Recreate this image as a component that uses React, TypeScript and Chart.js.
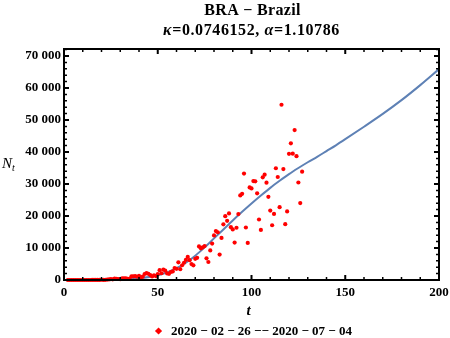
import React, { useEffect, useRef } from "react";
import { Chart, registerables } from "chart.js";

Chart.register(...registerables);

// ---- data ----
const FIRST_DAY = 2;
const dailyCases = [
  1, 0, 0, 1, 0, 0, 0, 2,
  5, 5, 6, 5, 5, 9, 18, 25, 21, 23,
  79, 34, 57, 137, 193, 283, 224, 418, 345, 310,
  232, 482, 502, 487, 352, 323, 1138, 1119, 1208, 1012,
  1304, 770, 1031, 1873, 2136, 1922, 1546, 1089, 1465, 1238,
  1832, 3058, 2105, 3257, 2917, 2055, 1927, 2498, 2678, 3735,
  3503, 5514, 3379, 4613, 5385, 6276, 7218, 6209, 4970, 4588,
  6633, 6935, 10503, 9888, 10222, 10611, 6760, 5632, 9258, 11385,
  13944, 15305, 14919, 7938, 13140, 17408, 19951, 18508, 20803, 16508,
  15813, 11687, 16324, 20599, 26417, 26928, 33274, 16409, 11598, 28936,
  28633, 30925, 30830, 27075, 18912, 15654, 32091, 32913, 30412, 25982,
  21704, 17110, 20647, 34918, 32188, 22765, 54771, 34666, 17459, 21432,
  39436, 42725, 39483, 46860, 38693, 30476, 24052, 33846,
];
const dayIndex = dailyCases.map((_, i) => FIRST_DAY + i);

const curveT = [0, 10, 20, 30, 40, 50, 55, 60, 65, 70, 75, 80, 85, 90, 95, 100, 105, 110, 115, 120, 125, 130, 135, 140, 145, 150, 160, 170, 180, 190, 200];
const curveN = [0, 5, 40, 180, 550, 1500, 2400, 3700, 5400, 7600, 10200, 13000, 15800, 18600, 21300, 23900, 26400, 28800, 31000, 33100, 35000, 36800, 38500, 40300, 42100, 44000, 47900, 51900, 56200, 60900, 65900];

const xTicks = [0, 50, 100, 150, 200];
const yTicks = [0, 10000, 20000, 30000, 40000, 50000, 60000, 70000];
const X_MIN = 0;
const X_MAX = 200;
const Y_MIN = 0;
const Y_MAX = 72190;
const X_MINOR = 10;
const Y_MINOR = 2000;

const titleLine1 = "BRA \u2212 Brazil";
const kappaValue = "0.0746152";
const alphaValue = "1.10786";
const legendLabel = "2020 \u2212 02 \u2212 26 \u2212\u2212 2020 \u2212 07 \u2212 04";
const xTitle = "t";
const yTitle = "N";
const yTitleSub = "t";

const SERIF = '"Liberation Serif", "Times New Roman", serif';
const RED = "#ff0000";
const BLUE = "#5e81b5";

function fmt(v: number): string {
  if (v >= 10000) {
    return `${Math.floor(v / 1000)} ${String(v % 1000).padStart(3, "0")}`;
  }
  return String(v);
}

const decorPlugin = {
  id: "decor",
  afterDraw(chart: any) {
    const { ctx, chartArea: a, scales } = chart;
    const xs = scales.x;
    const ys = scales.y;
    ctx.save();
    ctx.strokeStyle = "#000";
    ctx.lineCap = "butt";
    for (let v = X_MIN; v <= X_MAX; v += X_MINOR) {
      const px = xs.getPixelForValue(v);
      const major = v % 50 === 0;
      const len = major ? 5 : 3;
      ctx.lineWidth = major ? 2 : 1.5;
      ctx.beginPath();
      ctx.moveTo(px, a.bottom);
      ctx.lineTo(px, a.bottom - len);
      ctx.moveTo(px, a.top);
      ctx.lineTo(px, a.top + len);
      ctx.stroke();
    }
    for (let v = Y_MIN; v <= Y_MAX; v += Y_MINOR) {
      const py = ys.getPixelForValue(v);
      const major = v % 10000 === 0;
      const len = major ? 5 : 3;
      ctx.lineWidth = major ? 2 : 1.5;
      ctx.beginPath();
      ctx.moveTo(a.left, py);
      ctx.lineTo(a.left + len, py);
      ctx.moveTo(a.right, py);
      ctx.lineTo(a.right - len, py);
      ctx.stroke();
    }
    ctx.lineWidth = 2;
    ctx.strokeRect(a.left, a.top, a.right - a.left, a.bottom - a.top);

    const cx = (a.left + a.right) / 2;
    ctx.fillStyle = "#000";
    ctx.textBaseline = "alphabetic";
    ctx.font = `bold 16px ${SERIF}`;
    ctx.textAlign = "center";
    (ctx as any).letterSpacing = "0.3px";
    ctx.fillText(titleLine1, cx + 1, 15);
    (ctx as any).letterSpacing = "0.6px";
    const segs: [string, string][] = [
      ["\u03ba", `italic bold 16px ${SERIF}`],
      ["=" + kappaValue + ", ", `bold 16px ${SERIF}`],
      ["\u03b1", `italic bold 16px ${SERIF}`],
      ["=" + alphaValue, `bold 16px ${SERIF}`],
    ];
    let total = 0;
    for (const [t, f] of segs) {
      ctx.font = f;
      total += ctx.measureText(t).width;
    }
    let x0 = cx - total / 2;
    ctx.textAlign = "left";
    for (const [t, f] of segs) {
      ctx.font = f;
      ctx.fillText(t, x0, 35);
      x0 += ctx.measureText(t).width;
    }
    (ctx as any).letterSpacing = "0px";
    ctx.font = `italic 15px ${SERIF}`;
    ctx.fillText(yTitle, 2, 168);
    const nw = ctx.measureText(yTitle).width;
    ctx.font = `italic 10px ${SERIF}`;
    ctx.fillText(yTitleSub, 2 + nw, 171);
    ctx.font = `italic bold 15px ${SERIF}`;
    ctx.textAlign = "center";
    ctx.fillText(xTitle, cx - 3, 315);
    ctx.font = `bold 13px ${SERIF}`;
    ctx.textAlign = "left";
    const lw = ctx.measureText(legendLabel).width;
    const groupW = 16 + lw;
    const gx = cx + 2 - groupW / 2;
    ctx.fillStyle = RED;
    ctx.beginPath();
    const dcx = gx + 3.5;
    const dcy = 331;
    ctx.moveTo(dcx, dcy - 3.6);
    ctx.lineTo(dcx + 3.6, dcy);
    ctx.lineTo(dcx, dcy + 3.6);
    ctx.lineTo(dcx - 3.6, dcy);
    ctx.closePath();
    ctx.fill();
    ctx.fillStyle = "#000";
    ctx.fillText(legendLabel, gx + 16, 335);
    ctx.restore();
  },
};

export default function App() {
  const ref = useRef<HTMLCanvasElement>(null);
  useEffect(() => {
    const canvas = ref.current;
    if (!canvas) return;
    const tickFont = { family: SERIF, size: 13, weight: "bold" as const };
    const chart = new Chart(canvas, {
      type: "scatter",
      data: {
        datasets: [
          {
            label: legendLabel,
            data: dayIndex.map((t, i) => ({ x: t, y: dailyCases[i] })),
            backgroundColor: RED,
            borderColor: RED,
            borderWidth: 0,
            pointRadius: 2.1,
            pointHoverRadius: 2.1,
            showLine: false,
            clip: false,
          },
          {
            label: "fit",
            type: "line",
            data: curveT.map((t, i) => ({ x: t, y: curveN[i] })),
            borderColor: BLUE,
            borderWidth: 2,
            pointRadius: 0,
            fill: false,
            cubicInterpolationMode: "monotone",
            clip: false,
          } as any,
        ],
      },
      options: {
        responsive: false,
        animation: false,
        devicePixelRatio: 1,
        layout: { padding: { left: 0, right: 11, top: 49, bottom: 38 } },
        plugins: {
          legend: { display: false },
          title: { display: false },
          tooltip: { enabled: false },
        },
        scales: {
          x: {
            type: "linear",
            min: X_MIN,
            max: X_MAX,
            grid: { display: false, drawTicks: false },
            border: { display: false },
            afterBuildTicks: (s: any) => {
              s.ticks = xTicks.map((v) => ({ value: v }));
            },
            afterFit: (s: any) => {
              s.height = 20;
              s.paddingLeft = 0;
              s.paddingRight = 0;
            },
            ticks: {
              font: tickFont,
              color: "#000",
              padding: 5,
              maxRotation: 0,
              autoSkip: false,
              callback: (v: any) => fmt(Number(v)),
            },
          },
          y: {
            type: "linear",
            min: Y_MIN,
            max: Y_MAX,
            grid: { display: false, drawTicks: false },
            border: { display: false },
            afterBuildTicks: (s: any) => {
              s.ticks = yTicks.map((v) => ({ value: v }));
            },
            afterFit: (s: any) => {
              s.width = 64;
              s.paddingTop = 0;
              s.paddingBottom = 0;
            },
            ticks: {
              font: tickFont,
              color: "#000",
              padding: 3,
              autoSkip: false,
              callback: (v: any) => fmt(Number(v)),
            },
          },
        },
      },
      plugins: [decorPlugin],
    });
    return () => chart.destroy();
  }, []);
  return (
    <div style={{ position: "absolute", left: 0, top: 0, width: 450, height: 338 }}>
      <canvas ref={ref} width={450} height={338} style={{ display: "block" }} />
    </div>
  );
}
